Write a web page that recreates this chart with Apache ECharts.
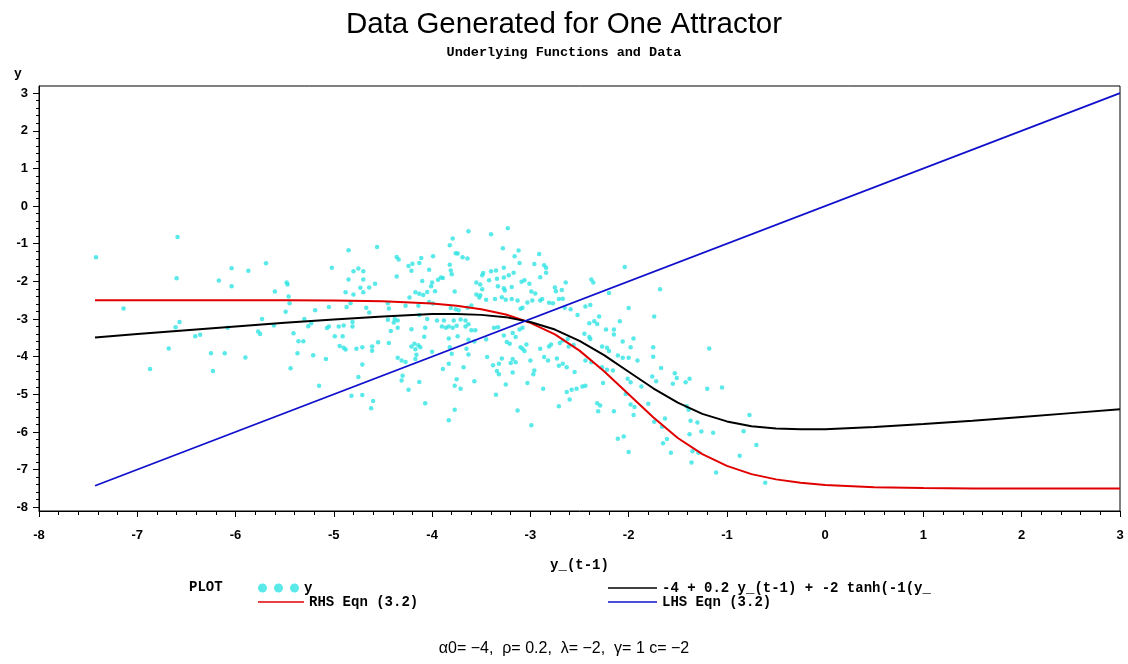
<!DOCTYPE html>
<html>
<head>
<meta charset="utf-8">
<script src="https://cdn.jsdelivr.net/npm/echarts@6/dist/echarts.min.js"></script>
<style>
  html, body { margin: 0; padding: 0; background: #fff; }
  #chart { width: 1128px; height: 664px; }
</style>
</head>
<body>
<div id="chart"></div>
<script>
// Observed pairs: [y_(t-1), y]
const observations = [
  [-7.42,-1.36],[-6.59,-0.82],[-6.60,-1.92],[-7.14,-2.72],[-6.87,-4.33],[-6.68,-3.78],[-6.61,-3.22],[-6.57,-3.08],
  [-6.41,-3.46],[-6.36,-3.42],[-6.25,-3.91],[-6.23,-4.38],[-6.17,-1.98],[-6.04,-1.65],[-6.04,-2.13],[-6.11,-3.91],
  [-6.08,-3.23],[-5.87,-1.72],[-5.90,-4.02],[-5.69,-1.52],[-5.73,-3.00],[-5.77,-3.33],[-5.75,-3.40],[-5.61,-3.17],
  [-5.60,-2.27],[-5.48,-2.03],[-5.47,-2.08],[-5.46,-2.40],[-5.45,-2.58],[-5.49,-2.81],[-5.41,-3.38],[-5.36,-3.59],
  [-5.31,-3.59],[-5.37,-3.91],[-5.44,-4.31],[-5.15,-4.77],[-5.21,-3.96],[-5.08,-4.06],[-5.26,-3.19],[-5.23,-3.11],
  [-5.19,-2.77],[-5.30,-3.00],[-5.05,-2.68],[-5.07,-3.24],[-5.05,-3.20],[-5.02,-1.64],
  [-3.63,-0.67],[-3.79,-0.86],[-3.82,-1.04],[-4.56,-1.09],[-4.85,-1.17],[-3.76,-1.25],[-3.74,-1.26],[-3.69,-1.36],
  [-3.64,-1.39],[-4.36,-1.35],[-4.34,-1.42],[-4.11,-1.38],[-4.13,-1.51],[-3.99,-1.33],[-4.20,-1.53],[-4.24,-1.59],
  [-3.82,-1.56],[-4.75,-1.66],[-4.80,-1.73],[-4.70,-1.73],[-4.21,-1.72],[-4.03,-1.69],[-3.81,-1.71],[-3.80,-1.81],
  [-4.85,-1.95],[-4.70,-1.95],[-4.36,-1.87],[-4.10,-1.99],[-4.00,-2.03],[-4.01,-2.13],[-3.94,-1.96],[-3.91,-1.90],
  [-3.89,-1.91],[-4.58,-2.06],[-4.64,-2.16],[-4.73,-2.17],[-3.97,-2.26],[-4.05,-2.28],[-3.77,-2.27],[-3.55,-2.03],
  [-3.51,-2.08],[-3.55,-2.35],[-3.51,-2.37],[-4.88,-2.29],[-4.80,-2.35],[-4.70,-2.29],[-4.45,-2.58],[-4.17,-2.29],
  [-4.13,-2.33],[-4.09,-2.36],[-4.23,-2.43],[-4.87,-2.68],[-4.83,-2.58],[-4.67,-2.70],[-4.64,-2.83],[-4.27,-2.65],
  [-4.14,-2.65],[-4.03,-2.55],[-3.99,-2.59],[-3.76,-2.74],[-3.73,-2.77],[-3.81,-2.71],[-4.44,-2.72],[-3.64,-2.70],
  [-3.60,-2.64],[-4.45,-3.02],[-4.38,-3.00],[-4.35,-3.04],[-4.13,-2.89],[-4.05,-3.00],[-3.95,-3.04],[-3.88,-3.04],
  [-3.78,-3.04],[-3.71,-3.01],[-3.66,-3.04],[-4.95,-3.20],[-4.90,-3.17],[-4.81,-3.08],[-4.81,-3.20],[-4.39,-3.09],
  [-4.35,-3.23],[-4.42,-3.32],[-4.21,-3.27],[-4.07,-3.23],[-3.90,-3.20],[-3.86,-3.23],[-3.83,-3.20],[-3.79,-3.23],
  [-3.75,-3.18],[-3.66,-3.20],[-3.63,-3.14],[-3.60,-3.30],[-3.56,-3.30],[-4.99,-3.46],[-4.91,-3.46],[-4.08,-3.47],
  [-3.83,-3.52],[-3.74,-3.46],[-3.63,-3.55],[-3.57,-3.60],[-4.94,-3.72],[-4.90,-3.76],[-4.88,-3.81],[-4.77,-3.79],
  [-4.71,-3.75],[-4.61,-3.73],[-4.61,-3.84],[-4.55,-3.62],[-4.44,-3.64],[-4.21,-3.73],[-4.18,-3.66],[-4.14,-3.70],
  [-4.12,-3.75],[-4.17,-3.80],[-4.16,-3.95],[-4.17,-4.06],[-4.00,-3.87],[-3.82,-3.75],[-3.80,-3.92],[-3.65,-3.79],
  [-3.63,-3.94],[-4.35,-4.03],[-4.31,-4.10],[-4.27,-4.14],[-4.71,-4.21],[-3.83,-4.19],[-3.89,-4.33],[-3.68,-4.28],
  [-4.75,-4.54],[-4.30,-4.51],[-4.31,-4.63],[-4.13,-4.67],[-3.75,-4.60],[-3.57,-4.65],[-3.77,-4.77],[-3.71,-4.85],
  [-4.24,-4.88],[-4.82,-5.04],[-4.71,-5.02],[-4.60,-5.18],[-4.62,-5.37],[-4.07,-5.24],[-3.77,-5.41],[-3.83,-5.69],
  [-3.40,-0.75],[-3.23,-0.59],[-3.28,-1.12],[-3.12,-1.18],[-3.16,-1.33],[-2.91,-1.27],[-3.11,-1.51],[-2.96,-1.54],
  [-2.86,-1.57],[-2.84,-1.64],[-3.27,-1.64],[-3.35,-1.71],[-3.40,-1.73],[-3.48,-1.78],[-3.49,-1.84],[-3.22,-1.84],
  [-3.17,-1.77],[-2.84,-1.77],[-2.90,-1.89],[-3.42,-1.97],[-3.34,-1.93],[-3.27,-1.90],[-3.09,-2.01],[-3.06,-1.97],
  [-3.01,-2.06],[-2.64,-2.03],[-2.38,-1.95],[-2.36,-2.03],[-2.04,-1.62],[-3.33,-2.13],[-3.27,-2.18],[-3.19,-2.15],
  [-3.26,-2.24],[-3.49,-2.21],[-2.99,-2.27],[-2.95,-2.32],[-2.75,-2.16],[-2.74,-2.26],[-2.68,-2.23],[-2.20,-2.31],
  [-3.52,-2.43],[-3.45,-2.49],[-3.36,-2.47],[-3.29,-2.42],[-3.25,-2.49],[-3.19,-2.47],[-3.13,-2.51],[-3.10,-2.73],
  [-3.08,-2.70],[-3.03,-2.56],[-2.98,-2.51],[-2.90,-2.51],[-2.88,-2.47],[-2.81,-2.57],[-2.77,-2.58],[-2.71,-2.47],
  [-2.67,-2.46],[-2.65,-2.70],[-2.59,-2.74],[-2.44,-2.67],[-2.39,-2.63],[-2.40,-3.11],[-2.35,-3.06],[-2.32,-3.13],
  [-2.30,-2.93],[-2.52,-2.89],[-2.09,-3.06],[-2.15,-3.28],[-2.23,-3.28],[-2.06,-3.60],[-3.37,-3.23],[-3.33,-3.22],
  [-3.45,-3.54],[-3.27,-3.44],[-3.18,-3.37],[-3.15,-3.48],[-3.11,-3.28],[-3.08,-3.23],[-3.24,-3.61],[-3.21,-3.66],
  [-3.10,-3.75],[-3.08,-3.79],[-3.04,-3.68],[-3.06,-3.85],[-2.90,-3.79],[-2.81,-3.73],[-2.79,-3.68],[-2.70,-3.64],
  [-2.67,-3.57],[-2.62,-3.53],[-2.61,-3.73],[-2.56,-3.69],[-2.45,-3.39],[-2.40,-3.48],[-2.39,-3.53],[-2.27,-3.73],
  [-2.22,-3.76],[-2.20,-3.85],[-3.44,-4.01],[-3.38,-4.23],[-3.32,-4.19],[-3.29,-4.05],[-3.20,-4.17],[-3.18,-4.06],
  [-3.15,-4.15],[-3.00,-4.10],[-2.86,-4.01],[-2.82,-4.10],[-2.73,-4.05],[-2.67,-4.19],[-2.63,-4.28],[-2.71,-4.24],
  [-2.55,-4.41],[-2.44,-4.10],[-2.38,-4.15],[-2.27,-4.28],[-2.22,-4.35],[-3.34,-4.38],[-3.32,-4.47],[-3.18,-4.42],
  [-2.97,-4.47],[-2.96,-4.37],[-3.25,-4.74],[-3.03,-4.70],[-2.87,-4.85],[-2.63,-4.94],[-2.58,-4.88],[-2.53,-4.85],
  [-2.47,-4.79],[-2.44,-4.77],[-2.60,-5.14],[-2.26,-4.70],[-3.35,-5.01],[-3.13,-5.43],[-2.71,-5.32],[-2.32,-5.24],
  [-2.29,-5.30],[-2.31,-5.45],[-2.15,-5.45],[-2.99,-5.82],[-2.11,-6.18],[-2.05,-6.12],
  [-1.68,-2.21],[-2.00,-2.71],[-1.74,-2.93],[-2.15,-3.41],[-1.95,-3.52],[-1.98,-3.75],[-1.75,-3.75],[-1.75,-4.00],
  [-1.18,-3.78],[-2.11,-3.97],[-2.06,-4.03],[-2.00,-4.03],[-1.91,-4.10],[-2.16,-4.37],[-2.01,-4.59],[-1.98,-4.68],
  [-1.87,-4.79],[-1.76,-4.53],[-1.72,-4.65],[-1.67,-4.30],[-1.55,-4.72],[-1.53,-4.44],[-1.51,-4.57],[-1.42,-4.68],
  [-1.38,-4.59],[-1.20,-4.85],[-1.05,-4.82],[-2.03,-4.99],[-1.98,-5.27],[-1.94,-5.34],[-1.80,-5.25],[-1.95,-5.55],
  [-1.74,-5.73],[-1.63,-5.64],[-1.66,-5.86],[-1.41,-5.32],[-1.39,-5.41],[-1.37,-5.70],[-1.30,-5.75],[-1.26,-5.99],
  [-1.38,-6.06],[-1.14,-6.02],[-0.77,-5.55],[-0.83,-5.98],[-0.70,-6.35],[-0.87,-6.63],[-2.00,-6.53],[-1.65,-6.30],
  [-1.61,-6.19],[-1.57,-6.55],[-1.35,-6.51],[-1.29,-6.55],[-1.36,-6.81],[-1.11,-7.08],[-0.61,-7.35]
];

// Curve abscissae and the two fitted curves
const curveX = [-7.43,-7.0,-6.5,-6.0,-5.5,-5.0,-4.5,-4.0,-3.75,-3.5,-3.25,-3.0,-2.75,-2.5,-2.25,-2.0,
                -1.75,-1.5,-1.25,-1.0,-0.75,-0.5,-0.25,0,0.5,1.0,1.5,2.0,2.5,3.0];
const tanhCurve = [-3.49,-3.40,-3.30,-3.20,-3.10,-3.01,-2.93,-2.87,-2.87,-2.89,-2.95,-3.08,-3.28,-3.58,-3.96,-4.40,
                   -4.84,-5.22,-5.52,-5.72,-5.85,-5.91,-5.93,-5.93,-5.87,-5.79,-5.70,-5.60,-5.50,-5.40];
const rhsCurve  = [-2.50,-2.50,-2.50,-2.50,-2.50,-2.51,-2.53,-2.59,-2.65,-2.74,-2.88,-3.10,-3.41,-3.84,-4.39,-5.00,
                   -5.61,-6.16,-6.59,-6.90,-7.12,-7.26,-7.35,-7.41,-7.47,-7.49,-7.50,-7.50,-7.50,-7.50];
const lhsX = [-7.43, 3.0];
const lhsY = [-7.43, 3.0];

const yTickValues = [-8,-7,-6,-5,-4,-3,-2,-1,0,1,2,3];
const yMinorValues = [];
for (let i = -8; i < 3; i++) for (let k = 1; k < 5; k++) yMinorValues.push(+(i + k * 0.2).toFixed(2));

const seriesNames = ['y', 'RHS Eqn (3.2)', '-4 + 0.2 y_(t-1) + -2 tanh(-1(y_', 'LHS Eqn (3.2)'];

const MONO = '"Liberation Mono", "DejaVu Sans Mono", monospace';
const SANS = '"Liberation Sans", Arial, sans-serif';
const zip = (xs, ys) => xs.map((x, i) => [x, ys[i]]);

const chart = echarts.init(document.getElementById('chart'));
const dotsIcon = 'path://M0,4.5a4.5,4.5 0 1,0 9,0a4.5,4.5 0 1,0 -9,0M16,4.5a4.5,4.5 0 1,0 9,0a4.5,4.5 0 1,0 -9,0M32,4.5a4.5,4.5 0 1,0 9,0a4.5,4.5 0 1,0 -9,0';
const legendText = { fontFamily: MONO, fontSize: 14, fontWeight: 'bold', color: '#000' };

chart.setOption({
  backgroundColor: '#fff',
  animation: false,
  title: {
    text: 'Data Generated for One Attractor',
    subtext: 'Underlying Functions and Data',
    left: 'center',
    top: 5,
    itemGap: 6,
    textStyle: { fontFamily: SANS, fontSize: 29.5, fontWeight: 'normal', color: '#000' },
    subtextStyle: { fontFamily: MONO, fontSize: 13.5, fontWeight: 'bold', color: '#000' }
  },
  grid: { left: 39, right: 8, top: 86, bottom: 153, show: true, borderColor: '#000', borderWidth: 1 },
  legend: [
    { data: [seriesNames[0]], left: 253, top: 576, icon: dotsIcon, itemWidth: 41, itemHeight: 9, textStyle: legendText, selectedMode: false },
    { data: [seriesNames[1]], left: 253, top: 590, icon: 'rect', itemWidth: 46, itemHeight: 1.5, textStyle: legendText, selectedMode: false },
    { data: [seriesNames[2]], left: 603, top: 576, icon: 'rect', itemWidth: 49, itemHeight: 1.5, textStyle: legendText, selectedMode: false },
    { data: [seriesNames[3]], left: 603, top: 590, icon: 'rect', itemWidth: 49, itemHeight: 1.5, textStyle: legendText, selectedMode: false }
  ],
  xAxis: {
    type: 'value', min: -8, max: 3, interval: 1,
    name: 'y_(t-1)', nameLocation: 'middle', nameGap: 47,
    nameTextStyle: { fontFamily: MONO, fontSize: 14, fontWeight: 'bold', color: '#000' },
    axisLine: { show: true, onZero: false, lineStyle: { color: '#000', width: 1 } },
    axisTick: { show: true, length: 6, lineStyle: { color: '#000' } },
    minorTick: { show: true, splitNumber: 5, length: 4, lineStyle: { color: '#000' } },
    splitLine: { show: false },
    axisLabel: { margin: 18, fontFamily: SANS, fontSize: 13, fontWeight: 'bold', color: '#000' }
  },
  yAxis: [
    {
      type: 'value', min: -8.1, max: 3.19,
      axisLine: { show: true, onZero: false, lineStyle: { color: '#000', width: 1 } },
      axisTick: { show: true, length: 6, customValues: yTickValues, lineStyle: { color: '#000' } },
      splitLine: { show: false },
      axisLabel: { customValues: yTickValues, margin: 11, fontFamily: SANS, fontSize: 13, fontWeight: 'bold', color: '#000' }
    },
    {
      type: 'value', min: -8.1, max: 3.19, position: 'left',
      axisLine: { show: false, onZero: false },
      axisTick: { show: true, length: 3, customValues: yMinorValues, lineStyle: { color: '#000' } },
      axisLabel: { show: false },
      splitLine: { show: false }
    }
  ],
  graphic: [
    { type: 'text', left: 14, top: 67, style: { text: 'y', font: 'bold 13px ' + MONO, fill: '#000' } },
    { type: 'text', left: 189, top: 580, style: { text: 'PLOT', font: 'bold 14px ' + MONO, fill: '#000' } },
    { type: 'text', left: 'center', top: 641, style: { text: 'α0= −4,  ρ= 0.2,  λ= −2,  γ= 1 c= −2', font: '16px ' + SANS, fill: '#000' } }
  ],
  series: [
    {
      name: seriesNames[0], type: 'scatter', data: observations,
      symbol: 'circle', symbolSize: 4.5, itemStyle: { color: '#2fe3e3' }, z: 2, silent: true
    },
    {
      name: seriesNames[1], type: 'line', data: zip(curveX, rhsCurve), showSymbol: false, smooth: false,
      lineStyle: { color: '#e00000', width: 2 }, itemStyle: { color: '#e00000' }, z: 3, silent: true
    },
    {
      name: seriesNames[2], type: 'line', data: zip(curveX, tanhCurve), showSymbol: false, smooth: false,
      lineStyle: { color: '#000', width: 2 }, itemStyle: { color: '#000' }, z: 3, silent: true
    },
    {
      name: seriesNames[3], type: 'line', data: zip(lhsX, lhsY), showSymbol: false,
      lineStyle: { color: '#1010cc', width: 1.8 }, itemStyle: { color: '#1010cc' }, z: 3, silent: true
    }
  ]
});
</script>
</body>
</html>
